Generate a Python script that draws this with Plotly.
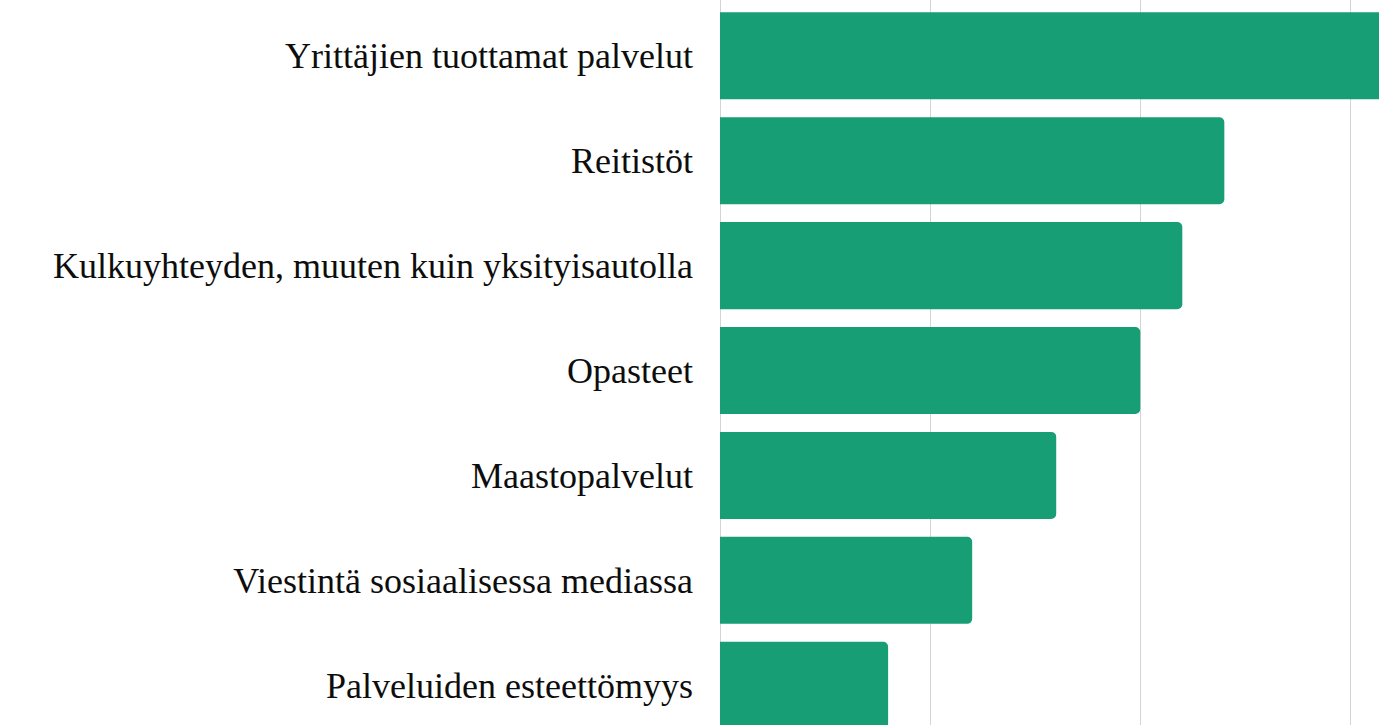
"""
Horizontal bar chart: most wanted services (cropped view).
"""

import plotly.graph_objects as go

CATEGORIES = [
    "Yrittäjien tuottamat palvelut",
    "Reitistöt",
    "Kulkuyhteyden, muuten kuin yksityisautolla",
    "Opasteet",
    "Maastopalvelut",
    "Viestintä sosiaalisessa mediassa",
    "Palveluiden esteettömyys",
]
VALUES = [17, 12, 11, 10, 8, 6, 4]

BAR_COLOR = "#189e74"
GRID_COLOR = "#d4d4d4"

fig = go.Figure(
    go.Bar(
        x=VALUES,
        y=CATEGORIES,
        orientation="h",
        marker=dict(color=BAR_COLOR, cornerradius=5, line=dict(width=0)),
        hovertemplate="%{y}: %{x}<extra></extra>",
    )
)

fig.update_layout(
    width=1379,
    height=725,
    margin=dict(l=720, r=0, t=0, b=0),
    paper_bgcolor="white",
    plot_bgcolor="white",
    bargap=0.17,
    showlegend=False,
    font=dict(family="Liberation Serif, Times New Roman, serif", size=36, color="#0d0d0d"),
)
fig.update_xaxes(
    range=[0, 15.68],
    dtick=5,
    showticklabels=False,
    showgrid=True,
    gridcolor=GRID_COLOR,
    gridwidth=1,
    zeroline=True,
    zerolinecolor=GRID_COLOR,
    zerolinewidth=1,
    showline=False,
)
fig.update_yaxes(
    categoryorder="array",
    categoryarray=CATEGORIES,
    range=[6.379, -0.532],
    showgrid=False,
    zeroline=False,
    showline=False,
    ticks="",
    ticklabelstandoff=26,
    automargin=False,
)

# drop the default page margin so the figure sits at the window's corner
fig.write_html(
    "out.html",
    config={"displayModeBar": False},
    post_script="document.body.style.margin = '0';",
)
